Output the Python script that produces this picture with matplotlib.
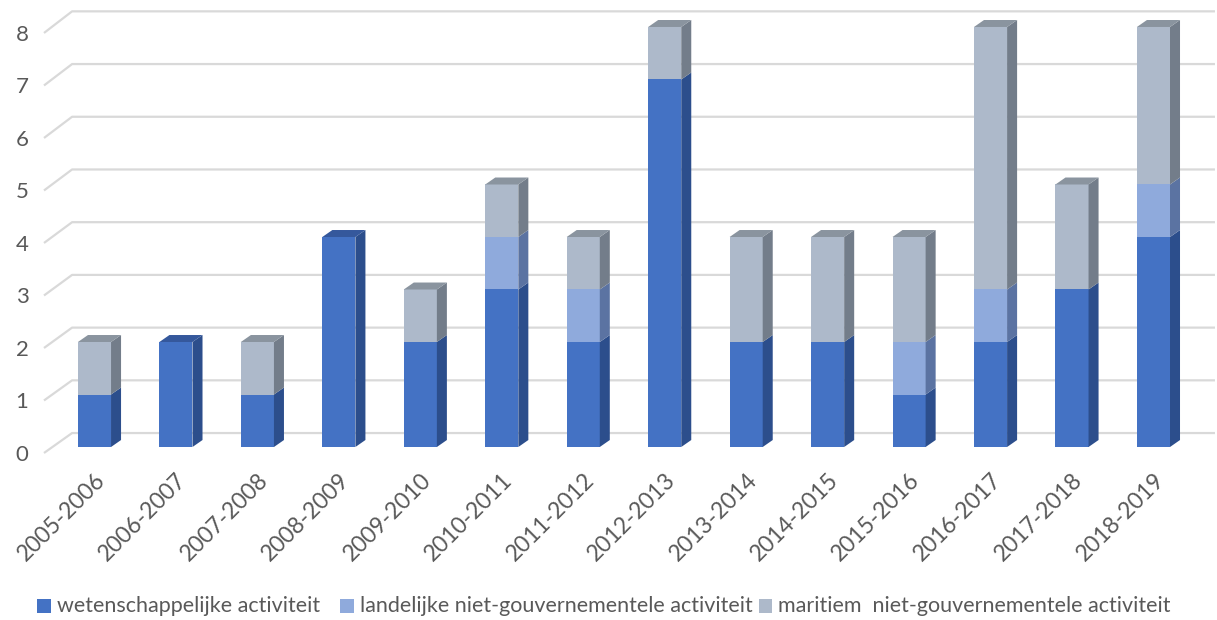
import matplotlib
matplotlib.use("Agg")
import matplotlib.pyplot as plt
from matplotlib.patches import Polygon, Rectangle

seasons = ["2005-2006", "2006-2007", "2007-2008", "2008-2009", "2009-2010",
           "2010-2011", "2011-2012", "2012-2013", "2013-2014", "2014-2015",
           "2015-2016", "2016-2017", "2017-2018", "2018-2019"]
wetenschappelijk = [1, 2, 1, 4, 2, 3, 2, 7, 2, 2, 1, 2, 3, 4]
landelijk = [0, 0, 0, 0, 0, 1, 1, 0, 0, 0, 1, 1, 0, 1]
maritiem = [1, 0, 1, 0, 1, 1, 1, 1, 2, 2, 2, 5, 2, 3]
y_ticks = [0, 1, 2, 3, 4, 5, 6, 7, 8]

series_names = ["wetenschappelijke activiteit",
                "landelijke niet-gouvernementele activiteit",
                "maritiem  niet-gouvernementele activiteit"]
# front, side, top
series_colors = [
    ("#4472C4", "#2C4E8C", "#35589C"),
    ("#8FAADC", "#5B73A2", "#6F86B0"),
    ("#ADB9CA", "#737D8A", "#8A949F"),
]

FONT = "Lato"
TEXT_COLOR = "#595959"
GRID_COLOR = "#D9D9D9"

# 3D look: depth offsets in data units
HALF_W = 0.203
DX, DY = 0.123, 0.133
WALL_DX, WALL_DY = 0.345, 0.38

fig = plt.figure(figsize=(12.17, 6.20), dpi=100)
ax = fig.add_axes([0, 0, 1, 1])
ax.set_xlim(-1.160, 13.780)
ax.set_ylim(-3.295, 8.514)
ax.axis("off")

# gridlines: floor diagonal + back wall line
x_front = -0.62
x_back = x_front + WALL_DX
for k in y_ticks:
    y_front = k - 0.114
    y_back = y_front + WALL_DY + 0.004 * k
    ax.plot([x_front, x_back, 13.755], [y_front, y_back, y_back],
            color=GRID_COLOR, lw=1.6, zorder=1, solid_capstyle="butt")
    ax.text(-0.89, k - 0.15, str(k), ha="center", va="center",
            fontsize=16, color=TEXT_COLOR, family=FONT)

# bars
stacks = [wetenschappelijk, landelijk, maritiem]
for i in range(len(seasons)):
    bottom = 0
    top_color = None
    for s, values in enumerate(stacks):
        v = values[i]
        if v == 0:
            continue
        front, side, top = series_colors[s]
        x0, x1 = i - HALF_W, i + HALF_W
        y0, y1 = bottom, bottom + v
        ax.add_patch(Rectangle((x0, y0), x1 - x0, v, facecolor=front,
                               edgecolor="none", zorder=3))
        ax.add_patch(Polygon([(x1, y0), (x1 + DX, y0 + DY), (x1 + DX, y1 + DY), (x1, y1)],
                             facecolor=side, edgecolor="none", zorder=3))
        bottom = y1
        top_color = top
    x0, x1 = i - HALF_W, i + HALF_W
    ax.add_patch(Polygon([(x0, bottom), (x0 + DX, bottom + DY), (x1 + DX, bottom + DY), (x1, bottom)],
                         facecolor=top_color, edgecolor="none", zorder=3))

# category labels
for i, label in enumerate(seasons):
    ax.text(i + 0.0, -0.42, label, rotation=45, rotation_mode="anchor",
            ha="right", va="top", fontsize=16.5, color=TEXT_COLOR, family=FONT)

# legend drawn by hand to keep Excel-like spacing
legend_x = [0.0305, 0.2795, 0.6235]
for name, colors, lx in zip(series_names, series_colors, legend_x):
    ax.add_patch(Rectangle((lx, 0.0115), 0.0112, 0.0225, transform=ax.transAxes,
                           facecolor=colors[0], edgecolor="none"))
    ax.text(lx + 0.016, 0.023, name, transform=ax.transAxes, ha="left", va="center",
            fontsize=15.5, color=TEXT_COLOR, family=FONT)

fig.savefig("out.png", dpi=100)
